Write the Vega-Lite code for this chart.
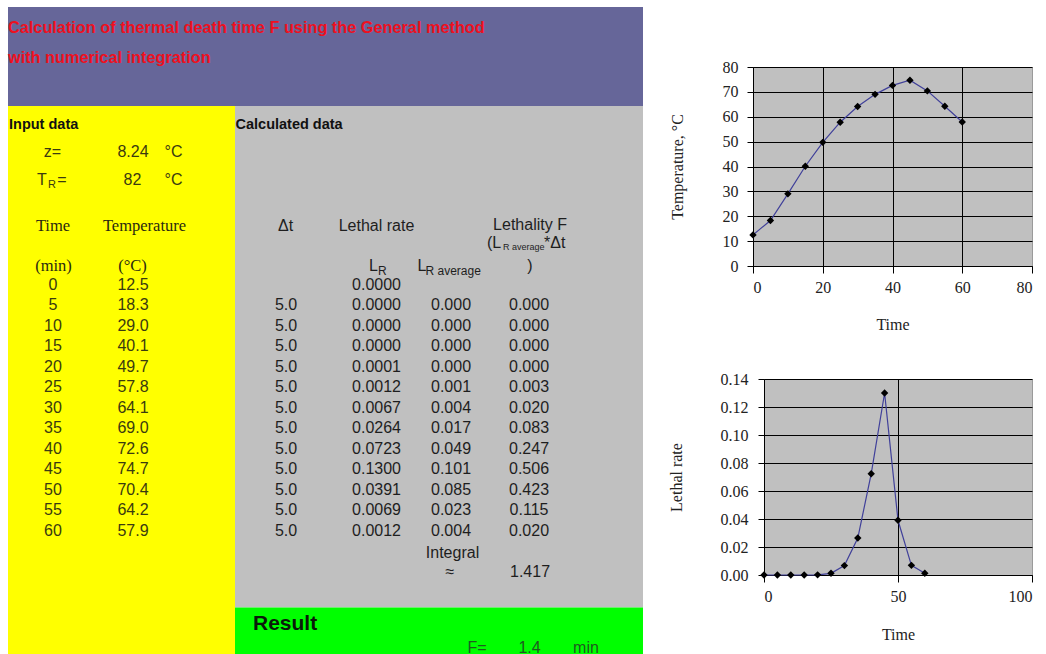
{
  "$schema": "https://vega.github.io/schema/vega-lite/v6.json",
  "padding": {"left": 8, "top": 7, "right": 0, "bottom": 0},
  "background": "white",
  "bounds": "flush",
  "spacing": 110,
  "config": {"view": {"stroke": null}},
  "datasets": {
    "run": [
      {"i": 0, "time": 0, "temp": 12.5, "dt": null, "lr": 0.0000, "lravg": null, "f": null},
      {"i": 1, "time": 5, "temp": 18.3, "dt": 5.0, "lr": 0.0000, "lravg": 0.000, "f": 0.000},
      {"i": 2, "time": 10, "temp": 29.0, "dt": 5.0, "lr": 0.0000, "lravg": 0.000, "f": 0.000},
      {"i": 3, "time": 15, "temp": 40.1, "dt": 5.0, "lr": 0.0000, "lravg": 0.000, "f": 0.000},
      {"i": 4, "time": 20, "temp": 49.7, "dt": 5.0, "lr": 0.0001, "lravg": 0.000, "f": 0.000},
      {"i": 5, "time": 25, "temp": 57.8, "dt": 5.0, "lr": 0.0012, "lravg": 0.001, "f": 0.003},
      {"i": 6, "time": 30, "temp": 64.1, "dt": 5.0, "lr": 0.0067, "lravg": 0.004, "f": 0.020},
      {"i": 7, "time": 35, "temp": 69.0, "dt": 5.0, "lr": 0.0264, "lravg": 0.017, "f": 0.083},
      {"i": 8, "time": 40, "temp": 72.6, "dt": 5.0, "lr": 0.0723, "lravg": 0.049, "f": 0.247},
      {"i": 9, "time": 45, "temp": 74.7, "dt": 5.0, "lr": 0.1300, "lravg": 0.101, "f": 0.506},
      {"i": 10, "time": 50, "temp": 70.4, "dt": 5.0, "lr": 0.0391, "lravg": 0.085, "f": 0.423},
      {"i": 11, "time": 55, "temp": 64.2, "dt": 5.0, "lr": 0.0069, "lravg": 0.023, "f": 0.115},
      {"i": 12, "time": 60, "temp": 57.9, "dt": 5.0, "lr": 0.0012, "lravg": 0.004, "f": 0.020}
    ],
    "blocks": [
      {"part": "header", "c0": 0, "c1": 63.5, "r0": -13.56, "r1": -8.73},
      {"part": "input", "c0": 0, "c1": 22.7, "r0": -8.73, "r1": 18},
      {"part": "calculated", "c0": 22.7, "c1": 63.5, "r0": -8.73, "r1": 15.73},
      {"part": "result", "c0": 22.7, "c1": 63.5, "r0": 15.73, "r1": 18}
    ],
    "cells": [
      {"k": "title", "c": 0.0, "r": -12.52, "t": "Calculation of thermal death time F using the General method"},
      {"k": "title", "c": 0.0, "r": -11.06, "t": "with numerical integration"},
      {"k": "section", "c": 0.1, "r": -7.8, "t": "Input data"},
      {"k": "section", "c": 22.75, "r": -7.8, "t": "Calculated data"},
      {"k": "input", "c": 4.45, "r": -6.5, "t": "z="},
      {"k": "input", "c": 12.5, "r": -6.5, "t": "8.24"},
      {"k": "input", "c": 16.55, "r": -6.5, "t": "°C"},
      {"k": "input", "c": 3.4, "r": -5.14, "t": "T"},
      {"k": "inputsub", "c": 4.0, "r": -5.14, "t": "R"},
      {"k": "input", "c": 5.4, "r": -5.14, "t": "="},
      {"k": "input", "c": 12.45, "r": -5.14, "t": "82"},
      {"k": "input", "c": 16.55, "r": -5.14, "t": "°C"},
      {"k": "serif", "c": 4.5, "r": -2.9, "t": "Time"},
      {"k": "serif", "c": 13.65, "r": -2.9, "t": "Temperature"},
      {"k": "serif", "c": 4.55, "r": -0.95, "t": "(min)"},
      {"k": "serif", "c": 12.45, "r": -0.95, "t": "(°C)"},
      {"k": "calc", "c": 27.75, "r": -2.9, "t": "Δt"},
      {"k": "calc", "c": 36.85, "r": -2.9, "t": "Lethal rate"},
      {"k": "calc", "c": 52.2, "r": -2.95, "t": "Lethality F"},
      {"k": "calcL", "c": 47.9, "r": -2.07, "t": "(L"},
      {"k": "subsm", "c": 49.5, "r": -2.07, "t": "R average"},
      {"k": "calcL", "c": 53.6, "r": -2.07, "t": "*Δt"},
      {"k": "calc", "c": 52.2, "r": -0.95, "t": ")"},
      {"k": "calcL", "c": 36.1, "r": -0.95, "t": "L"},
      {"k": "sub", "c": 37.0, "r": -0.95, "t": "R"},
      {"k": "calcL", "c": 40.95, "r": -0.95, "t": "L"},
      {"k": "sub", "c": 41.75, "r": -0.95, "t": "R average"},
      {"k": "calc", "c": 44.45, "r": 13.05, "t": "Integral"},
      {"k": "calc", "c": 44.2, "r": 13.98, "t": "≈"},
      {"k": "calc", "c": 52.2, "r": 13.98, "t": "1.417"},
      {"k": "result", "c": 24.5, "r": 16.52, "t": "Result"},
      {"k": "fvalue", "c": 46.9, "r": 17.7, "t": "F="},
      {"k": "fvalue", "c": 52.15, "r": 17.7, "t": "1.4"},
      {"k": "fvalue", "c": 57.8, "r": 17.7, "t": "min"}
    ]
  },
  "hconcat": [
    {
      "width": 635,
      "height": 647,
      "layer": [
        {
          "data": {"name": "blocks"},
          "mark": {"type": "rect"},
          "encoding": {
            "x": {"field": "c0", "type": "quantitative", "scale": {"domain": [0, 63.5], "nice": false, "zero": false}, "axis": null},
            "x2": {"field": "c1"},
            "y": {"field": "r0", "type": "quantitative", "scale": {"domain": [-13.56, 18], "reverse": true, "nice": false, "zero": false}, "axis": null},
            "y2": {"field": "r1"},
            "color": {"field": "part", "type": "nominal", "scale": {"domain": ["header", "input", "calculated", "result"], "range": ["#666699", "#ffff00", "#c0c0c0", "#00ff00"]}, "legend": null}
          }
        },
        {
          "data": {"name": "cells"},
          "transform": [{"filter": "datum.k === 'title'"}],
          "mark": {"type": "text", "align": "left", "baseline": "middle", "font": "Liberation Sans", "fontSize": 16.3, "fontWeight": "bold", "color": "#ee1020"},
          "encoding": {"x": {"field": "c", "type": "quantitative", "axis": null}, "y": {"field": "r", "type": "quantitative", "axis": null}, "text": {"field": "t"}}
        },
        {
          "data": {"name": "cells"},
          "transform": [{"filter": "datum.k === 'section'"}],
          "mark": {"type": "text", "align": "left", "baseline": "middle", "font": "Liberation Sans", "fontSize": 14.5, "fontWeight": "bold", "color": "#111111"},
          "encoding": {"x": {"field": "c", "type": "quantitative", "axis": null}, "y": {"field": "r", "type": "quantitative", "axis": null}, "text": {"field": "t"}}
        },
        {
          "data": {"name": "cells"},
          "transform": [{"filter": "datum.k === 'input'"}],
          "mark": {"type": "text", "align": "center", "baseline": "middle", "font": "Liberation Sans", "fontSize": 16, "color": "#3a3a10"},
          "encoding": {"x": {"field": "c", "type": "quantitative", "axis": null}, "y": {"field": "r", "type": "quantitative", "axis": null}, "text": {"field": "t"}}
        },
        {
          "data": {"name": "cells"},
          "transform": [{"filter": "datum.k === 'inputsub'"}],
          "mark": {"type": "text", "align": "left", "baseline": "middle", "dy": 5, "font": "Liberation Sans", "fontSize": 11, "color": "#3a3a10"},
          "encoding": {"x": {"field": "c", "type": "quantitative", "axis": null}, "y": {"field": "r", "type": "quantitative", "axis": null}, "text": {"field": "t"}}
        },
        {
          "data": {"name": "cells"},
          "transform": [{"filter": "datum.k === 'serif'"}],
          "mark": {"type": "text", "align": "center", "baseline": "middle", "font": "Liberation Serif", "fontSize": 16.5, "color": "#2a2a10"},
          "encoding": {"x": {"field": "c", "type": "quantitative", "axis": null}, "y": {"field": "r", "type": "quantitative", "axis": null}, "text": {"field": "t"}}
        },
        {
          "data": {"name": "cells"},
          "transform": [{"filter": "datum.k === 'calc'"}],
          "mark": {"type": "text", "align": "center", "baseline": "middle", "font": "Liberation Sans", "fontSize": 16, "color": "#1e1e1e"},
          "encoding": {"x": {"field": "c", "type": "quantitative", "axis": null}, "y": {"field": "r", "type": "quantitative", "axis": null}, "text": {"field": "t"}}
        },
        {
          "data": {"name": "cells"},
          "transform": [{"filter": "datum.k === 'calcL'"}],
          "mark": {"type": "text", "align": "left", "baseline": "middle", "font": "Liberation Sans", "fontSize": 16, "color": "#1e1e1e"},
          "encoding": {"x": {"field": "c", "type": "quantitative", "axis": null}, "y": {"field": "r", "type": "quantitative", "axis": null}, "text": {"field": "t"}}
        },
        {
          "data": {"name": "cells"},
          "transform": [{"filter": "datum.k === 'sub'"}],
          "mark": {"type": "text", "align": "left", "baseline": "middle", "dy": 5, "font": "Liberation Sans", "fontSize": 12, "color": "#1e1e1e"},
          "encoding": {"x": {"field": "c", "type": "quantitative", "axis": null}, "y": {"field": "r", "type": "quantitative", "axis": null}, "text": {"field": "t"}}
        },
        {
          "data": {"name": "cells"},
          "transform": [{"filter": "datum.k === 'subsm'"}],
          "mark": {"type": "text", "align": "left", "baseline": "middle", "dy": 4, "font": "Liberation Sans", "fontSize": 9, "color": "#1e1e1e"},
          "encoding": {"x": {"field": "c", "type": "quantitative", "axis": null}, "y": {"field": "r", "type": "quantitative", "axis": null}, "text": {"field": "t"}}
        },
        {
          "data": {"name": "cells"},
          "transform": [{"filter": "datum.k === 'result'"}],
          "mark": {"type": "text", "align": "left", "baseline": "middle", "font": "Liberation Sans", "fontSize": 21, "fontWeight": "bold", "color": "#0a1a0a"},
          "encoding": {"x": {"field": "c", "type": "quantitative", "axis": null}, "y": {"field": "r", "type": "quantitative", "axis": null}, "text": {"field": "t"}}
        },
        {
          "data": {"name": "cells"},
          "transform": [{"filter": "datum.k === 'fvalue'"}],
          "mark": {"type": "text", "align": "center", "baseline": "middle", "font": "Liberation Sans", "fontSize": 16, "color": "#1f5a1f"},
          "encoding": {"x": {"field": "c", "type": "quantitative", "axis": null}, "y": {"field": "r", "type": "quantitative", "axis": null}, "text": {"field": "t"}}
        },
        {
          "data": {"name": "run"},
          "mark": {"type": "text", "align": "center", "baseline": "middle", "font": "Liberation Sans", "fontSize": 16, "color": "#3a3a10"},
          "encoding": {"x": {"datum": 4.5, "type": "quantitative", "axis": null}, "y": {"field": "i", "type": "quantitative", "axis": null}, "text": {"field": "time", "type": "quantitative", "format": "d"}}
        },
        {
          "data": {"name": "run"},
          "mark": {"type": "text", "align": "center", "baseline": "middle", "font": "Liberation Sans", "fontSize": 16, "color": "#3a3a10"},
          "encoding": {"x": {"datum": 12.5, "type": "quantitative", "axis": null}, "y": {"field": "i", "type": "quantitative", "axis": null}, "text": {"field": "temp", "type": "quantitative", "format": ".1f"}}
        },
        {
          "data": {"name": "run"},
          "transform": [{"filter": {"field": "dt", "valid": true}}],
          "mark": {"type": "text", "align": "center", "baseline": "middle", "font": "Liberation Sans", "fontSize": 16, "color": "#1e1e1e"},
          "encoding": {"x": {"datum": 27.8, "type": "quantitative", "axis": null}, "y": {"field": "i", "type": "quantitative", "axis": null}, "text": {"field": "dt", "type": "quantitative", "format": ".1f"}}
        },
        {
          "data": {"name": "run"},
          "mark": {"type": "text", "align": "center", "baseline": "middle", "font": "Liberation Sans", "fontSize": 16, "color": "#1e1e1e"},
          "encoding": {"x": {"datum": 36.85, "type": "quantitative", "axis": null}, "y": {"field": "i", "type": "quantitative", "axis": null}, "text": {"field": "lr", "type": "quantitative", "format": ".4f"}}
        },
        {
          "data": {"name": "run"},
          "transform": [{"filter": {"field": "lravg", "valid": true}}],
          "mark": {"type": "text", "align": "center", "baseline": "middle", "font": "Liberation Sans", "fontSize": 16, "color": "#1e1e1e"},
          "encoding": {"x": {"datum": 44.3, "type": "quantitative", "axis": null}, "y": {"field": "i", "type": "quantitative", "axis": null}, "text": {"field": "lravg", "type": "quantitative", "format": ".3f"}}
        },
        {
          "data": {"name": "run"},
          "transform": [{"filter": {"field": "f", "valid": true}}],
          "mark": {"type": "text", "align": "center", "baseline": "middle", "font": "Liberation Sans", "fontSize": 16, "color": "#1e1e1e"},
          "encoding": {"x": {"datum": 52.1, "type": "quantitative", "axis": null}, "y": {"field": "i", "type": "quantitative", "axis": null}, "text": {"field": "f", "type": "quantitative", "format": ".3f"}}
        }
      ]
    },
    {
      "bounds": "flush",
      "spacing": 0,
      "vconcat": [
        {
          "width": 279,
          "height": 60,
          "data": {"values": []},
          "mark": "point",
          "encoding": {}
        },
        {
          "width": 279,
          "height": 199,
          "view": {"fill": "#c0c0c0", "stroke": "#9a9a9a"},
          "data": {"name": "run"},
          "layer": [
            {
              "mark": {"type": "line", "color": "#40409a", "strokeWidth": 1.2}
            },
            {
              "mark": {"type": "point", "shape": "diamond", "filled": true, "color": "#000000", "opacity": 1, "size": 55}
            }
          ],
          "encoding": {
            "x": {
              "field": "time",
              "type": "quantitative",
              "scale": {"domain": [0, 80], "nice": false, "zero": false},
              "axis": {
                "values": [0, 20, 40, 60, 80], "grid": true,
                "gridColor": {"condition": {"test": "datum.value === 80", "value": "#9a9a9a"}, "value": "#000000"},
                "gridWidth": 1, "domainColor": "#000000", "tickColor": "#000000", "tickSize": 7,
                "labelFont": "Liberation Serif", "labelFontSize": 16, "labelColor": "#222222", "labelPadding": 6,
                "title": "Time", "titleFont": "Liberation Serif", "titleFontSize": 16, "titleFontWeight": "normal", "titleColor": "#222222", "titlePadding": 21
              }
            },
            "y": {
              "field": "temp",
              "type": "quantitative",
              "scale": {"domain": [0, 80], "nice": false, "zero": false},
              "axis": {
                "values": [0, 10, 20, 30, 40, 50, 60, 70, 80], "grid": true,
                "gridColor": "#000000", "gridWidth": 1, "domainColor": "#000000", "tickColor": "#000000", "tickSize": 6,
                "labelFont": "Liberation Serif", "labelFontSize": 16, "labelColor": "#222222", "labelPadding": 9,
                "title": "Temperature, °C", "titleFont": "Liberation Serif", "titleFontSize": 16, "titleFontWeight": "normal", "titleColor": "#222222", "titlePadding": 37
              }
            }
          }
        },
        {
          "width": 279,
          "height": 113,
          "data": {"values": []},
          "mark": "point",
          "encoding": {}
        },
        {
          "bounds": "flush",
          "spacing": 0,
          "hconcat": [
            {
              "width": 11,
              "height": 196,
              "data": {"values": []},
              "mark": "point",
              "encoding": {}
            },
            {
              "width": 268,
              "height": 196,
              "view": {"fill": "#c0c0c0", "stroke": "#9a9a9a"},
              "data": {"name": "run"},
              "layer": [
                {
                  "mark": {"type": "line", "color": "#40409a", "strokeWidth": 1.2}
                },
                {
                  "mark": {"type": "point", "shape": "diamond", "filled": true, "color": "#000000", "opacity": 1, "size": 55}
                }
              ],
              "encoding": {
                "x": {
                  "field": "time",
                  "type": "quantitative",
                  "scale": {"domain": [0, 100], "nice": false, "zero": false},
                  "axis": {
                    "values": [0, 50, 100], "grid": true,
                    "gridColor": {"condition": {"test": "datum.value === 100", "value": "#9a9a9a"}, "value": "#000000"},
                    "gridWidth": 1, "domainColor": "#000000", "tickColor": "#000000", "tickSize": 7,
                    "labelFont": "Liberation Serif", "labelFontSize": 16, "labelColor": "#222222", "labelPadding": 6,
                    "title": "Time", "titleFont": "Liberation Serif", "titleFontSize": 16, "titleFontWeight": "normal", "titleColor": "#222222", "titlePadding": 22
                  }
                },
                "y": {
                  "field": "lr",
                  "type": "quantitative",
                  "scale": {"domain": [0, 0.14], "nice": false, "zero": false},
                  "axis": {
                    "values": [0, 0.02, 0.04, 0.06, 0.08, 0.1, 0.12, 0.14], "format": ".2f", "grid": true,
                    "gridColor": "#000000", "gridWidth": 1, "domainColor": "#000000", "tickColor": "#000000", "tickSize": 6,
                    "labelFont": "Liberation Serif", "labelFontSize": 16, "labelColor": "#222222", "labelPadding": 10,
                    "title": "Lethal rate", "titleFont": "Liberation Serif", "titleFontSize": 16, "titleFontWeight": "normal", "titleColor": "#222222", "titlePadding": 36
                  }
                }
              }
            }
          ]
        }
      ]
    }
  ]
}
